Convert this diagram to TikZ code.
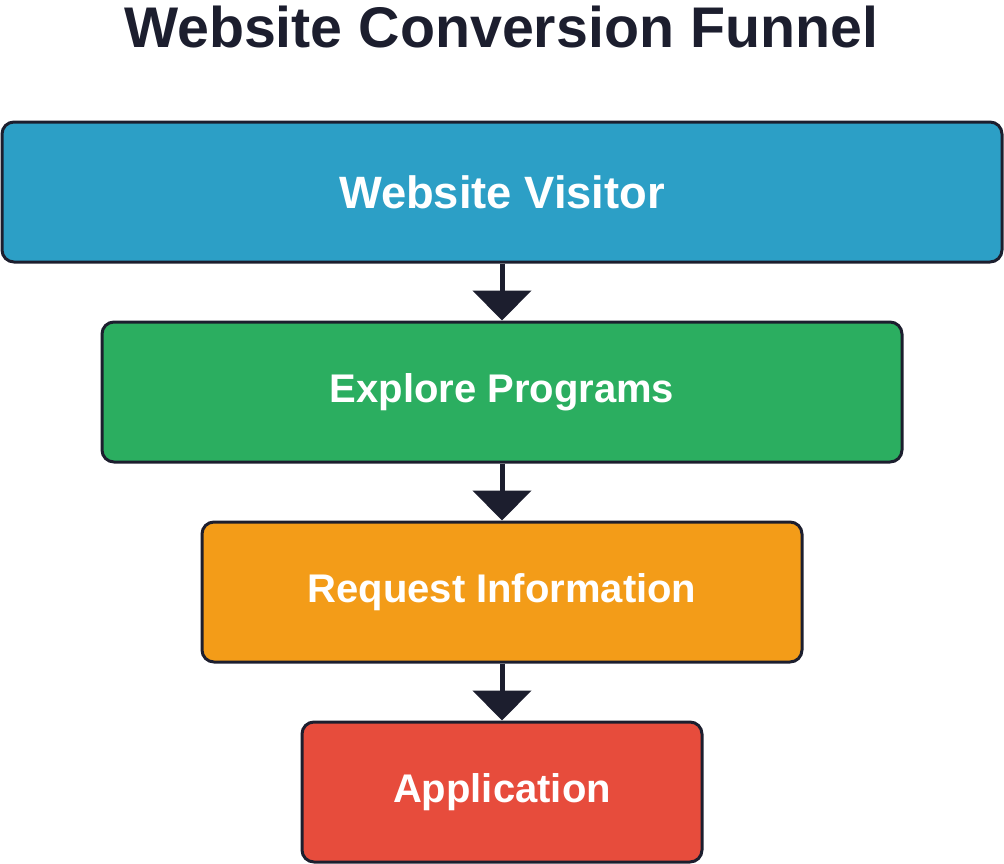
\documentclass[tikz,border=0pt]{standalone}
\usepackage{fontspec}
\setmainfont{Liberation Sans}
\usetikzlibrary{arrows.meta,positioning}
\definecolor{inkdark}{HTML}{1C1E2E}
\definecolor{visitorblue}{HTML}{2C9FC6}
\definecolor{exploregreen}{HTML}{2BAE60}
\definecolor{requestorange}{HTML}{F39C18}
\definecolor{applyred}{HTML}{E74C3C}
\tikzset{
  stage/.style={draw=inkdark, line width=2.25pt, rounded corners=9pt,
    text=white, font=\bfseries\fontsize{30}{36}\selectfont,
    minimum height=105pt, inner sep=0pt},
  flow/.style={draw=inkdark, line width=3.75pt,
    -{Triangle[length=22.5pt,width=43.5pt]}}
}
\begin{document}
\begin{tikzpicture}[x=0.75pt,y=-0.75pt]
\useasboundingbox (0,0) rectangle (1004,864);

\node (title) at (501,27) {\bfseries\fontsize{43}{50}\selectfont\color{inkdark}Website Conversion Funnel};

\node[stage, fill=visitorblue, minimum width=750pt, font=\bfseries\fontsize{34}{40}\selectfont] (visitor) at (502,192) {Website Visitor};
\node[stage, fill=exploregreen, minimum width=600pt] (explore) at (502,392) {Explore Programs};
\node[stage, fill=requestorange, minimum width=450pt] (request) at (502,592) {Request Information};
\node[stage, fill=applyred, minimum width=300pt] (apply) at (502,792) {Application};

\draw[flow] (visitor.south) -- (explore.north);
\draw[flow] (explore.south) -- (request.north);
\draw[flow] (request.south) -- (apply.north);
\end{tikzpicture}
\end{document}
